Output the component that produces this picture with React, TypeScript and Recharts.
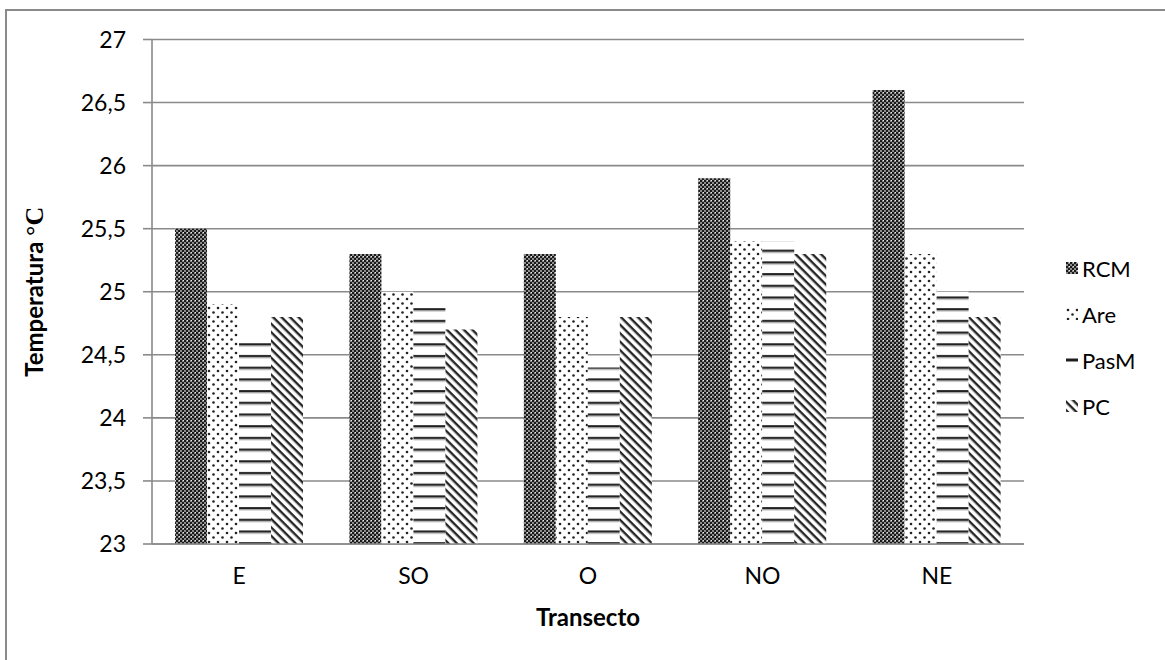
import { BarChart, Bar, XAxis, YAxis, CartesianGrid, Legend } from "recharts";

// ── Data ─────────────────────────────────────────────────────────────────────

const transects = ["E", "SO", "O", "NO", "NE"];
const rcm = [25.5, 25.3, 25.3, 25.9, 26.6];
const are = [24.9, 25.0, 24.8, 25.4, 25.3];
const pasM = [24.6, 24.9, 24.4, 25.4, 25.0];
const pc = [24.8, 24.7, 24.8, 25.3, 24.8];
const yTicks = [23, 23.5, 24, 24.5, 25, 25.5, 26, 26.5, 27];

const data = transects.map((t, i) => ({ t, RCM: rcm[i], Are: are[i], PasM: pasM[i], PC: pc[i] }));

const series = [
  { key: "RCM", fill: "url(#pat-rcm)" },
  { key: "Are", fill: "url(#pat-are)" },
  { key: "PasM", fill: "url(#pat-pasm)" },
  { key: "PC", fill: "url(#pat-pc)" },
];

const FONT = "Lato, 'Open Sans', sans-serif";
const GRID = "#8a8a8a";

// ── Fill patterns ────────────────────────────────────────────────────────────

function Patterns() {
  return (
    <defs>
      <pattern id="pat-rcm" patternUnits="userSpaceOnUse" width={4} height={4}>
        <rect width={4} height={4} fill="#8c8c8c" />
        <rect x={0} y={0} width={2} height={2} fill="#1a1a1a" />
        <rect x={2} y={2} width={2} height={2} fill="#1a1a1a" />
        <rect x={3} y={0} width={1} height={1} fill="#e8e8e8" />
      </pattern>
      <pattern id="pat-are" patternUnits="userSpaceOnUse" width={9} height={9}>
        <rect width={9} height={9} fill="#fff" />
        <circle cx={2} cy={2} r={1.3} fill="#222" />
        <circle cx={6.5} cy={6.5} r={1.3} fill="#222" />
      </pattern>
      <pattern id="pat-pasm" patternUnits="userSpaceOnUse" width={8} height={11.7}>
        <rect width={8} height={11.7} fill="#fff" />
        <rect y={4} width={8} height={2.2} fill="#1e1e1e" />
        <rect y={6.2} width={8} height={1} fill="#9a9a9a" />
      </pattern>
      <pattern id="pat-pc" patternUnits="userSpaceOnUse" width={6} height={6} patternTransform="rotate(45)">
        <rect width={6} height={6} fill="#fff" />
        <rect y={0} width={6} height={2.4} fill="#262626" />
      </pattern>
    </defs>
  );
}

// ── Legend ───────────────────────────────────────────────────────────────────

function LegendIcon({ k, fill }: { k: string; fill: string }) {
  if (k === "PasM") {
    return (
      <svg width={12} height={12} style={{ display: "block" }}>
        <rect x={0} y={4.5} width={12} height={3} fill="#1e1e1e" />
      </svg>
    );
  }
  return (
    <svg width={12} height={12} style={{ display: "block" }}>
      <rect x={0} y={0} width={12} height={12} fill={fill} />
    </svg>
  );
}

function renderLegend() {
  return (
    <div style={{ fontFamily: FONT, fontSize: 22, color: "#000" }}>
      {series.map((s) => (
        <div key={s.key} style={{ display: "flex", alignItems: "center", height: 46 }}>
          <LegendIcon k={s.key} fill={s.fill} />
          <span style={{ marginLeft: 4 }}>{s.key}</span>
        </div>
      ))}
    </div>
  );
}

// ── Chart ────────────────────────────────────────────────────────────────────

export default function App() {
  return (
    <div style={{ position: "absolute", left: 0, top: 0, width: 1165, height: 660, background: "#fff" }}>
      <div style={{
        position: "absolute", left: 5, top: 9, width: 1170, height: 660,
        borderTop: "2px solid #8a8a8a", borderLeft: "2px solid #8a8a8a",
      }} />
      <BarChart
        width={1165}
        height={660}
        data={data}
        margin={{ top: 39.5, right: 141, bottom: 0, left: 0 }}
        barCategoryGap="13.2%"
        barGap={0}
        style={{ position: "absolute", left: 0, top: 0 }}
      >
        <Patterns />
        <CartesianGrid vertical={false} stroke={GRID} strokeWidth={1.6} />
        <XAxis
          dataKey="t"
          height={116}
          tickLine={false}
          tickSize={0}
          tickMargin={24}
          axisLine={{ stroke: GRID, strokeWidth: 1.6 }}
          tick={{ fill: "#000", fontFamily: FONT, fontSize: 23 }}
          label={{
            content: ({ viewBox }: any) => (
              <text
                x={viewBox.x + viewBox.width / 2}
                y={626}
                textAnchor="middle"
                fontFamily={FONT}
                fontSize={24}
                fontWeight={700}
                fill="#000"
              >
                Transecto
              </text>
            ),
          }}
        />
        <YAxis
          width={152}
          domain={[23, 27]}
          ticks={yTicks}
          interval={0}
          tickSize={9}
          tickMargin={17}
          tickFormatter={(v: number) => String(v).replace(".", ",")}
          axisLine={{ stroke: GRID, strokeWidth: 1.6 }}
          tickLine={{ stroke: GRID, strokeWidth: 1.6 }}
          tick={{ fill: "#000", fontFamily: FONT, fontSize: 23 }}
          label={{
            content: ({ viewBox }: any) => {
              const cy = viewBox.y + viewBox.height / 2;
              return (
                <text
                  x={43}
                  y={cy}
                  transform={`rotate(-90, 43, ${cy})`}
                  textAnchor="middle"
                  fontFamily={FONT}
                  fontSize={24}
                  fontWeight={700}
                  fill="#000"
                >
                  Temperatura <tspan fontFamily="'Liberation Serif', serif" fontSize={26}>°C</tspan>
                </text>
              );
            },
          }}
        />
        <Legend
          layout="horizontal"
          align="center"
          verticalAlign="middle"
          content={renderLegend}
          wrapperStyle={{ left: 1066, top: 245, width: 100 }}
        />
        {series.map((s) => (
          <Bar key={s.key} dataKey={s.key} fill={s.fill} isAnimationActive={false} />
        ))}
      </BarChart>
    </div>
  );
}
